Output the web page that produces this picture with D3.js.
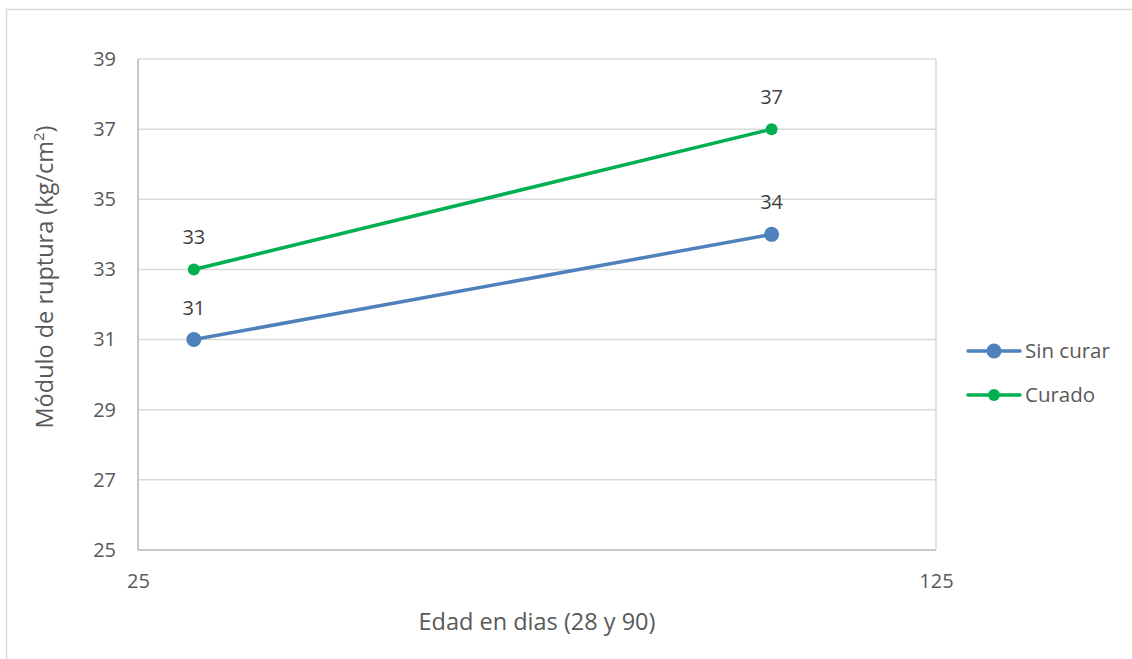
<!DOCTYPE html>
<html>
<head>
<meta charset="utf-8">
<script src="https://cdn.jsdelivr.net/npm/d3@7"></script>
<style>
  html, body { margin: 0; padding: 0; background: #fff; }
  svg { display: block; font-family: "Open Sans", "Liberation Sans", sans-serif; }
</style>
</head>
<body>
<svg id="chart" width="1132" height="659"></svg>
<script>
// Age of the specimens (x) and modulus of rupture (y) for each series
const seriesNames = ["Sin curar", "Curado"];
const ageX = [32, 104.4];
const sinCurar = [31, 34];
const curado = [33, 37];
const xTicks = [25, 125];
const yTicks = [25, 27, 29, 31, 33, 35, 37, 39];
const colors = ["#4F81BD", "#00B050"];
const markerR = [7.5, 6];

const svg = d3.select("#chart");
const W = 1132, H = 659;

// outer chart frame
svg.append("rect")
  .attr("x", 6.5).attr("y", 9.5)
  .attr("width", W).attr("height", H)
  .attr("fill", "#fff").attr("stroke", "#d9d9d9").attr("stroke-width", 1.5);

const plot = { left: 138, right: 936, top: 59, bottom: 550 };
const x = d3.scaleLinear().domain([25, 125]).range([plot.left, plot.right]);
const y = d3.scaleLinear().domain([25, 39]).range([plot.bottom, plot.top]);

// horizontal gridlines
svg.append("g").selectAll("line").data(yTicks).join("line")
  .attr("x1", plot.left).attr("x2", plot.right)
  .attr("y1", d => y(d)).attr("y2", d => y(d))
  .attr("stroke", "#d9d9d9").attr("stroke-width", 1.5);

// plot-area verticals (axis line and right edge)
svg.append("g").selectAll("line").data(xTicks).join("line")
  .attr("x1", d => x(d)).attr("x2", d => x(d))
  .attr("y1", plot.top).attr("y2", plot.bottom)
  .attr("stroke", "#d9d9d9").attr("stroke-width", 1.5);
svg.append("line")
  .attr("x1", plot.left).attr("x2", plot.left)
  .attr("y1", plot.top).attr("y2", plot.bottom)
  .attr("stroke", "#bfbfbf").attr("stroke-width", 1.5);
svg.append("line")
  .attr("x1", plot.left).attr("x2", plot.right)
  .attr("y1", plot.bottom).attr("y2", plot.bottom)
  .attr("stroke", "#bfbfbf").attr("stroke-width", 1.5);

// y tick labels
const yAxis = d3.axisLeft(y).tickValues(yTicks).tickSize(0).tickPadding(22);
svg.append("g").attr("transform", `translate(${plot.left},0)`).call(yAxis)
  .call(g => g.select(".domain").remove())
  .call(g => g.selectAll("text").attr("font-size", 20).attr("fill", "#595959")
    .attr("font-family", "'Open Sans', sans-serif"));

// x tick labels
const xAxis = d3.axisBottom(x).tickValues(xTicks).tickSize(0).tickPadding(24);
svg.append("g").attr("transform", `translate(0,${plot.bottom})`).call(xAxis)
  .call(g => g.select(".domain").remove())
  .call(g => g.selectAll("text").attr("font-size", 20).attr("fill", "#595959")
    .attr("font-family", "'Open Sans', sans-serif"));

// axis titles
svg.append("text")
  .attr("x", 537).attr("y", 630)
  .attr("text-anchor", "middle").attr("font-size", 23.5).attr("fill", "#595959")
  .text("Edad en dias (28 y 90)");

const yTitle = svg.append("text")
  .attr("transform", "translate(53,277) rotate(-90)")
  .attr("text-anchor", "middle").attr("font-size", 23.5).attr("fill", "#595959");
yTitle.append("tspan").text("Módulo de ruptura (kg/cm");
yTitle.append("tspan").attr("font-size", 15).attr("dy", -9).text("2");
yTitle.append("tspan").attr("dy", 9).text(")");

// series lines, markers and value labels
const series = [sinCurar, curado].map((vals, i) => ({
  name: seriesNames[i],
  color: colors[i],
  r: markerR[i],
  points: vals.map((v, j) => ({ x: ageX[j], y: v }))
}));

const line = d3.line().x(d => x(d.x)).y(d => y(d.y));

series.forEach(s => {
  svg.append("path").datum(s.points)
    .attr("d", line).attr("fill", "none")
    .attr("stroke", s.color).attr("stroke-width", 3.5).attr("stroke-linecap", "round");
  svg.append("g").selectAll("circle").data(s.points).join("circle")
    .attr("cx", d => x(d.x)).attr("cy", d => y(d.y)).attr("r", s.r)
    .attr("fill", s.color);
  svg.append("g").selectAll("text").data(s.points).join("text")
    .attr("x", d => x(d.x)).attr("y", d => y(d.y) - 25)
    .attr("text-anchor", "middle").attr("font-size", 20).attr("fill", "#404040")
    .text(d => d.y);
});

// legend
const legend = svg.append("g").attr("transform", "translate(968,351)");
series.forEach((s, i) => {
  const g = legend.append("g").attr("transform", `translate(0,${i * 44})`);
  g.append("line").attr("x1", 0).attr("x2", 52).attr("y1", 0).attr("y2", 0)
    .attr("stroke", s.color).attr("stroke-width", 3.5).attr("stroke-linecap", "round");
  g.append("circle").attr("cx", 26).attr("cy", 0).attr("r", s.r).attr("fill", s.color);
  g.append("text").attr("x", 57).attr("y", 0).attr("dy", "0.35em")
    .attr("font-size", 20.5).attr("fill", "#595959").text(s.name);
});
</script>
</body>
</html>
